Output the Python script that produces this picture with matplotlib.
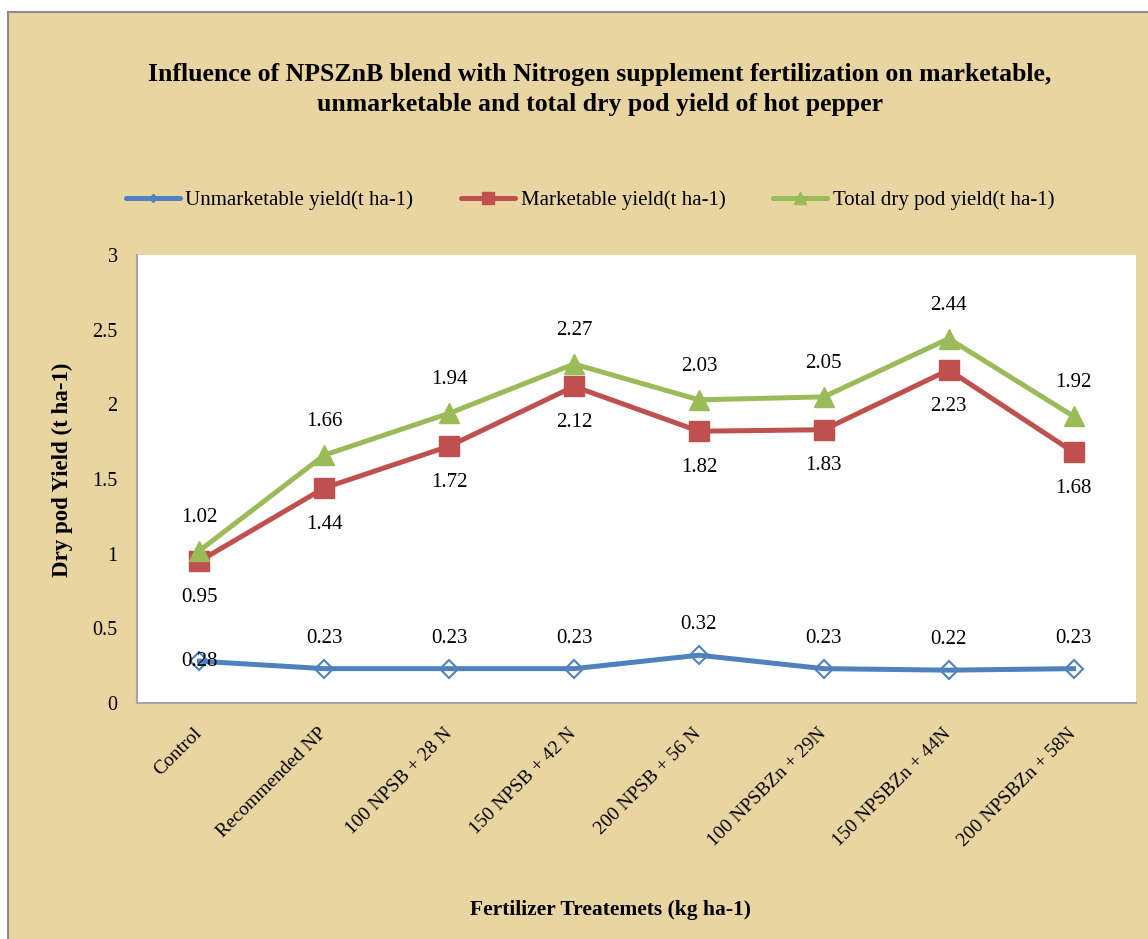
import matplotlib
matplotlib.use("Agg")
import matplotlib.pyplot as plt
from matplotlib.lines import Line2D
from matplotlib.patches import Rectangle

plt.rcParams["font.family"] = ["Liberation Serif", "DejaVu Serif"]

# data
treatments = [
    "Control",
    "Recommended NP",
    "100 NPSB + 28 N",
    "150 NPSB + 42 N",
    "200 NPSB + 56 N",
    "100 NPSBZn + 29N",
    "150 NPSBZn + 44N",
    "200 NPSBZn + 58N",
]
unmarketable = [0.28, 0.23, 0.23, 0.23, 0.32, 0.23, 0.22, 0.23]
marketable = [0.95, 1.44, 1.72, 2.12, 1.82, 1.83, 2.23, 1.68]
total_yield = [1.02, 1.66, 1.94, 2.27, 2.03, 2.05, 2.44, 1.92]

BLUE = "#4F81BD"
RED = "#C0504D"
GREEN = "#9BBB59"
PAPER = "#E9D5A1"

W, H = 1148, 939
fig = plt.figure(figsize=(W / 100, H / 100), dpi=100, facecolor="white")

# papyrus-coloured chart panel with grey frame
fig.patches.append(Rectangle((8 / W, -0.01), 1.0, 1 - 12 / H + 0.01,
                             transform=fig.transFigure, facecolor=PAPER,
                             edgecolor="#8C8C8C", linewidth=1.5, zorder=-10))

ax = fig.add_axes([137 / W, 1 - 703 / H, (1136 - 137) / W, (703 - 255) / H])
ax.set_facecolor("white")
ax.set_zorder(1)

x = list(range(len(treatments)))
ax.plot(x, unmarketable, color=BLUE, lw=3.6, marker="D", ms=9.5,
        mfc="none", mec=BLUE, mew=1.5, zorder=3)
ax.plot(x, marketable, color=RED, lw=3.6, marker="s", ms=14,
        mfc=RED, mec=RED, zorder=4)
ax.plot(x, total_yield, color=GREEN, lw=3.6, marker="^", ms=15,
        mfc=GREEN, mec=GREEN, zorder=5)

# data labels
lab_kw = dict(textcoords="offset points", ha="center", va="center",
              fontsize=15, zorder=6)
for i, v in enumerate(total_yield):
    ax.annotate(f"{v:.2f}", (i, v), xytext=(0, 24), **lab_kw)
for i, v in enumerate(marketable):
    ax.annotate(f"{v:.2f}", (i, v), xytext=(0, -26), **lab_kw)
for i, v in enumerate(unmarketable):
    dy = 0 if i == 0 else 22
    ax.annotate(f"{v:.2f}", (i, v), xytext=(0, dy), **lab_kw)

ax.set_xlim(-0.5, len(treatments) - 0.5)
ax.set_ylim(0, 3)
ax.set_yticks([0, 0.5, 1, 1.5, 2, 2.5, 3])
ax.set_yticklabels(["0", "0.5", "1", "1.5", "2", "2.5", "3"])
ax.set_xticks(x)
ax.set_xticklabels(treatments, rotation=45, ha="right", va="center",
                   rotation_mode="anchor")
ax.tick_params(axis="y", length=0, pad=14, labelsize=14.5)
ax.tick_params(axis="x", length=0, pad=20, labelsize=14)

for side in ["top", "right"]:
    ax.spines[side].set_visible(False)
for side in ["left", "bottom"]:
    ax.spines[side].set_color("#A6A6A6")
    ax.spines[side].set_linewidth(1.5)

ax.set_ylabel("Dry pod Yield (t ha-1)", fontweight="bold", fontsize=16.5)
ax.yaxis.set_label_coords(73 / W, 0.5, transform=fig.transFigure)

fig.text(610 / W, 1 - 910 / H, "Fertilizer Treatemets (kg ha-1)",
         ha="center", va="center", fontweight="bold", fontsize=15.5)

fig.text(600 / W, 1 - 89.5 / H,
         "Influence of NPSZnB blend with Nitrogen supplement fertilization on marketable,\n"
         "unmarketable and total dry pod yield of hot pepper",
         ha="center", va="center", fontweight="bold", fontsize=18.5,
         linespacing=1.35)

handles = [
    Line2D([], [], color=BLUE, lw=3.6, marker="D", ms=4, mfc=BLUE, mec=BLUE,
           solid_capstyle="round"),
    Line2D([], [], color=RED, lw=3.6, marker="s", ms=8, mfc=RED, mec=RED,
           solid_capstyle="round"),
    Line2D([], [], color=GREEN, lw=3.6, marker="^", ms=8, mfc=GREEN, mec=GREEN,
           solid_capstyle="round"),
]
labels = ["Unmarketable yield(t ha-1)", "Marketable yield(t ha-1)",
          "Total dry pod yield(t ha-1)"]
fig.legend(handles, labels, loc="center", bbox_to_anchor=(590 / W, 1 - 200 / H),
           ncol=3, frameon=False, fontsize=15, handlelength=2.6,
           handletextpad=0.25, columnspacing=2.3)

fig.savefig("out.png", dpi=100, facecolor=fig.get_facecolor())
